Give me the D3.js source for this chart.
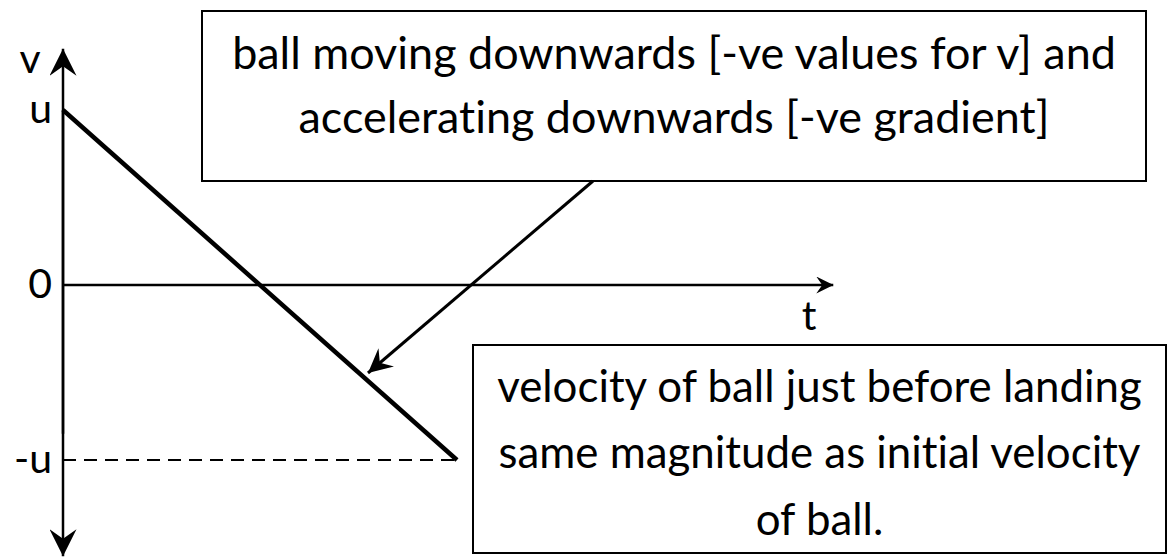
<!DOCTYPE html>
<html>
<head>
<meta charset="utf-8">
<script src="https://cdn.jsdelivr.net/npm/d3@7"></script>
<style>
  body { margin: 0; background: #fff; }
  text { font-family: Lato, "Open Sans", sans-serif; fill: #000; font-variant-ligatures: none; }
</style>
</head>
<body>
<div class="container"></div>
<script>
// ball thrown up, v against t
var times = [0, 1];
var velocities = [1, -1];
var tickValues = [1, 0, -1];
var tickLabels = ['u', '0', '-u'];
var topNote = ['ball moving downwards [-ve values for v] and', 'accelerating downwards [-ve gradient]'];
var bottomNote = ['velocity of ball just before landing', 'same magnitude as initial velocity', 'of ball.'];

const WIDTH = 1171;
const HEIGHT = 560;

var xScale = d3.scaleLinear().domain([0, 1]).range([63, 457]);
var yScale = d3.scaleLinear().domain([-1, 1]).range([460, 110]);

var svg = d3.select('.container').append('svg')
    .attr('width', WIDTH)
    .attr('height', HEIGHT);

var defs = svg.append('defs');
var addArrow = function (id, size) {
    defs.append('marker')
        .attr('id', id)
        .attr('viewBox', '0 0 10 10')
        .attr('refX', 10)
        .attr('refY', 5)
        .attr('markerUnits', 'userSpaceOnUse')
        .attr('markerWidth', size)
        .attr('markerHeight', size)
        .attr('orient', 'auto')
        .append('path')
        .attr('d', 'M0,0 L10,5 L0,10 L3.5,5 Z')
        .attr('fill', '#000');
};
addArrow('bigArrow', 27);
addArrow('smallArrow', 17);
addArrow('pointArrow', 24);

var x0 = xScale(0), y0 = yScale(0);

// axes
svg.append('line')
    .attr('x1', x0).attr('y1', yScale(-0.85))
    .attr('x2', x0).attr('y2', yScale(1.35))
    .attr('stroke', '#000').attr('stroke-width', 2.5)
    .attr('marker-end', 'url(#bigArrow)');
svg.append('line')
    .attr('x1', x0).attr('y1', yScale(1))
    .attr('x2', x0).attr('y2', yScale(-1.55))
    .attr('stroke', '#000').attr('stroke-width', 2.5)
    .attr('marker-end', 'url(#bigArrow)');
svg.append('line')
    .attr('x1', x0).attr('y1', y0)
    .attr('x2', xScale(1.955)).attr('y2', y0)
    .attr('stroke', '#000').attr('stroke-width', 2.5)
    .attr('marker-end', 'url(#smallArrow)');

// dashed line at -u
svg.append('line')
    .attr('x1', x0).attr('y1', yScale(-1))
    .attr('x2', xScale(1)).attr('y2', yScale(-1))
    .attr('stroke', '#000').attr('stroke-width', 1.8)
    .attr('stroke-dasharray', '13,8');

// v-t line
var line = d3.line()
    .x(function (d, i) { return xScale(times[i]); })
    .y(function (d) { return yScale(d); });
svg.append('path')
    .datum(velocities)
    .attr('d', line)
    .attr('fill', 'none')
    .attr('stroke', '#000')
    .attr('stroke-width', 4.5);

// tick labels
svg.selectAll('.tickLabel')
    .data(tickValues)
    .enter()
    .append('text')
    .attr('class', 'tickLabel')
    .attr('x', 52)
    .attr('y', function (d) { return yScale(d) + 13; })
    .attr('text-anchor', 'end')
    .attr('font-size', 41)
    .text(function (d, i) { return tickLabels[i]; });

svg.append('text').attr('x', 30).attr('y', 73)
    .attr('text-anchor', 'middle').attr('font-size', 41).text('v');
svg.append('text').attr('x', 809).attr('y', 330)
    .attr('text-anchor', 'middle').attr('font-size', 41).text('t');

// note boxes
var drawNote = function (box, lines, baselines, maxWidth) {
    svg.append('rect')
        .attr('x', box.x).attr('y', box.y)
        .attr('width', box.w).attr('height', box.h)
        .attr('fill', '#fff')
        .attr('stroke', '#000').attr('stroke-width', 2);
    var texts = svg.selectAll(null)
        .data(lines)
        .enter()
        .append('text')
        .attr('x', box.x + box.w / 2)
        .attr('y', function (d, i) { return baselines[i]; })
        .attr('text-anchor', 'middle')
        .attr('font-size', 40)
        .text(function (d) { return d; });
    var widest = d3.max(texts.nodes(), function (n) { return n.getComputedTextLength(); });
    texts.attr('font-size', 40 * maxWidth / widest);
};

drawNote({x: 202, y: 11, w: 944, h: 170}, topNote, [69, 133], 884);
drawNote({x: 473, y: 345, w: 693, h: 208}, bottomNote, [402, 468, 535], 645);

// pointer from top note to the line
svg.append('line')
    .attr('x1', 593).attr('y1', 181)
    .attr('x2', 368).attr('y2', 373)
    .attr('stroke', '#000').attr('stroke-width', 3)
    .attr('marker-end', 'url(#pointArrow)');
</script>
</body>
</html>
